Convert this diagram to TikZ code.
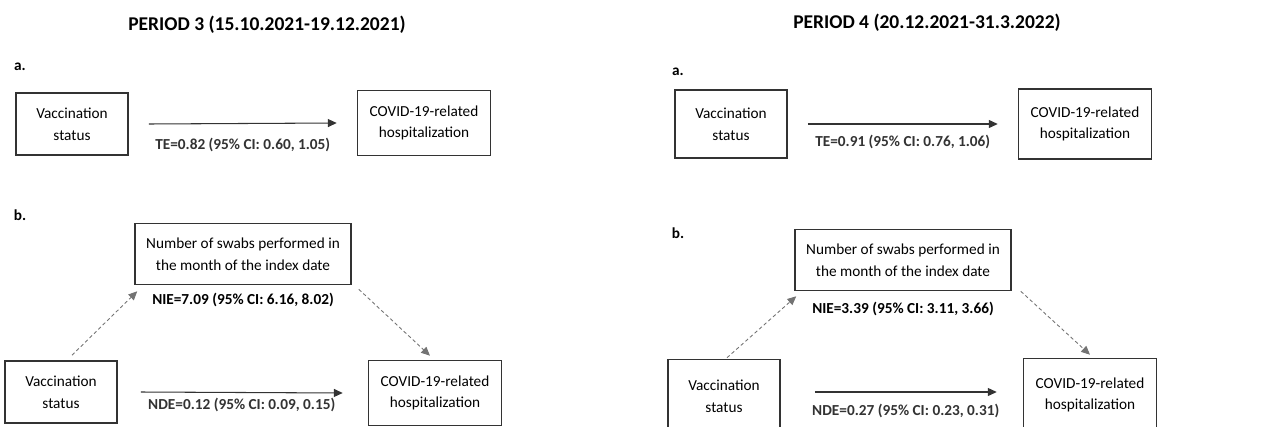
\documentclass[tikz,border=0pt]{standalone}
\usepackage{fontspec}
\setmainfont{Carlito}
\usetikzlibrary{arrows.meta,positioning}
\tikzset{
  box/.style={draw=black!80, line width=0.9pt, align=center, inner sep=2pt,
    font=\fontsize{8.7}{12.3}\selectfont},
  vacbox/.style={box, minimum width=2.24cm, minimum height=1.24cm},
  outbox/.style={box, minimum width=2.66cm, minimum height=1.3cm},
  medbox/.style={box, minimum width=4.32cm, minimum height=1.22cm},
  effect/.style={font=\bfseries\fontsize{8.7}{10}\selectfont},
  title/.style={font=\bfseries\fontsize{11.1}{13}\selectfont},
  panel/.style={font=\bfseries\fontsize{8.7}{10}\selectfont},
  total/.style={-{Triangle[length=5pt,width=4.5pt]}, line width=0.6pt, black!80},
  indirect/.style={-{Triangle[length=5pt,width=4.5pt]}, black!55, line width=0.5pt,
    dash pattern=on 2pt off 1.5pt},
}
\begin{document}
\begin{tikzpicture}[x=0.02cm, y=-0.02cm]
    \useasboundingbox (0,0) rectangle (1271,426);
    \clip (0,0) rectangle (1271,426);

    % Period 3
    \node[title] (t3) at (267,25) {PERIOD 3 (15.10.2021-19.12.2021)};
    \node[panel] (a3) at (20,67) {a.};
    \node[vacbox] (va3) at (72,124) {Vaccination\\status};
    \node[outbox] (ca3) at (424,123) {COVID-19-related\\hospitalization};
    \draw[total] ([xshift=0.4cm]va3.east) -- ([xshift=-0.4cm]ca3.west)
        node[effect, midway, yshift=-0.42cm] {TE=0.82 (95\% CI: 0.60, 1.05)};

    \node[panel] (b3) at (20,215) {b.};
    \node[medbox] (sw3) at (243,254) {Number of swabs performed in\\the month of the index date};
    \node[effect, below=1pt of sw3] (nie3) {NIE=7.09 (95\% CI: 6.16, 8.02)};
    \node[vacbox] (vb3) at (61,392) {Vaccination\\status};
    \node[outbox] (cb3) at (435,393) {COVID-19-related\\hospitalization};
    \draw[total] ([xshift=0.46cm]vb3.east) -- ([xshift=-0.5cm]cb3.west)
        node[effect, midway, yshift=-0.24cm] {NDE=0.12 (95\% CI: 0.09, 0.15)};
    \draw[indirect] ([shift={(11,-5)}]vb3.north) -- ([shift={(3,6)}]sw3.south west);
    \draw[indirect] ([shift={(7,4)}]sw3.south east) -- ([shift={(-5,-4)}]cb3.north);

    % Period 4
    \node[title] (t4) at (927,23) {PERIOD 4 (20.12.2021-31.3.2022)};
    \node[panel] (a4) at (678,72) {a.};
    \node[vacbox, minimum height=1.36cm] (va4) at (731,124) {Vaccination\\status};
    \node[outbox, minimum height=1.4cm] (ca4) at (1085,124) {COVID-19-related\\hospitalization};
    \draw[total] ([xshift=0.4cm]va4.east) -- ([xshift=-0.4cm]ca4.west)
        node[effect, midway, yshift=-0.36cm] {TE=0.91 (95\% CI: 0.76, 1.06)};

    \node[panel] (b4) at (678,233) {b.};
    \node[medbox] (sw4) at (903,260) {Number of swabs performed in\\the month of the index date};
    \node[effect, below=2.5pt of sw4] (nie4) {NIE=3.39 (95\% CI: 3.11, 3.66)};
    \node[vacbox, minimum height=1.46cm] (vb4) at (724,396) {Vaccination\\status};
    \node[outbox, minimum height=1.46cm] (cb4) at (1090,395) {COVID-19-related\\hospitalization};
    \draw[total] ([shift={(34,-4)}]vb4.east) -- ([shift={(-26,-3)}]cb4.west)
        node[effect, midway, yshift=-0.38cm] {NDE=0.27 (95\% CI: 0.23, 0.31)};
    \draw[indirect] ([shift={(3,-1)}]vb4.north) -- ([shift={(2,5)}]sw4.south west);
    \draw[indirect] ([shift={(9,0)}]sw4.south east) -- ([shift={(0,-3)}]cb4.north);
\end{tikzpicture}
\end{document}
